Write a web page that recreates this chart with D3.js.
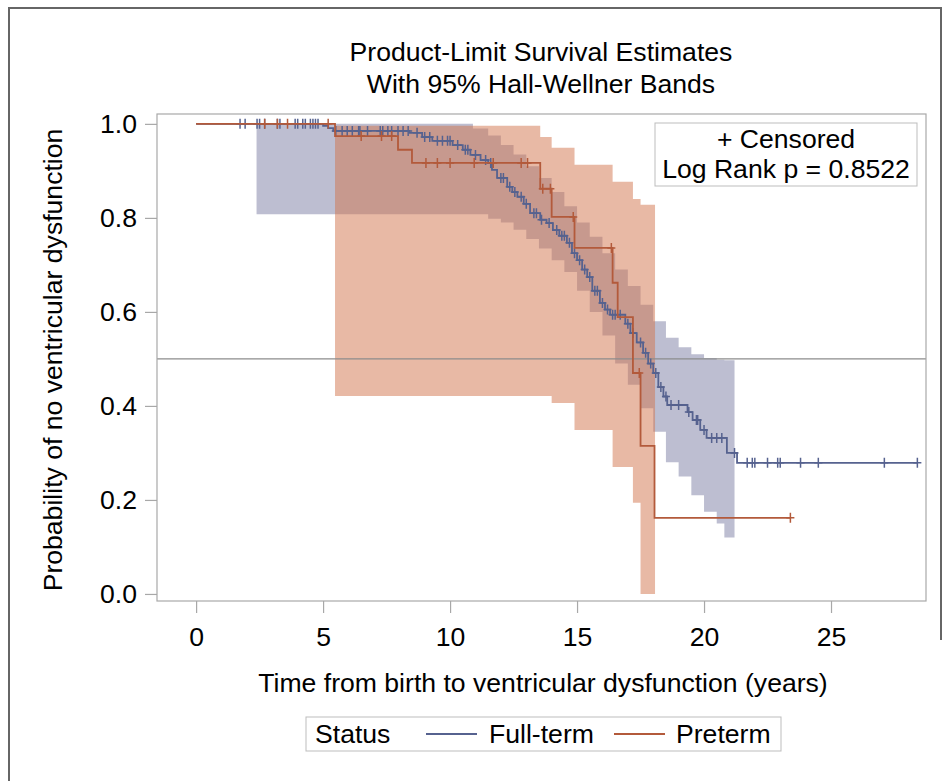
<!DOCTYPE html>
<html>
<head>
<meta charset="utf-8">
<script src="https://cdn.jsdelivr.net/npm/d3@7"></script>
<style>
  body { margin: 0; background: #fff; }
  text { font-family: "Liberation Sans", Arial, sans-serif; fill: #000; }
</style>
</head>
<body>
<div class="chart"></div>
<script>
// Kaplan-Meier steps
var ftTime = [0, 5.0, 5.2, 5.4, 8.4, 8.9, 9.3, 10.1, 10.5, 10.8, 11.2, 11.5, 11.65, 11.85, 12.25, 12.45, 12.65, 12.9, 13.15, 13.55, 13.8, 14.05, 14.3, 14.6, 14.8, 15.0, 15.2, 15.4, 15.6, 15.9, 16.1, 16.3, 16.9, 17.1, 17.35, 17.6, 17.8, 18.0, 18.2, 18.4, 18.55, 19.35, 19.55, 19.85, 20.1, 20.9, 21.3, 28.4];
var ftSurv = [1.0, 0.996, 0.991, 0.985, 0.981, 0.972, 0.964, 0.955, 0.945, 0.934, 0.923, 0.917, 0.902, 0.885, 0.866, 0.855, 0.845, 0.83, 0.81, 0.796, 0.789, 0.774, 0.762, 0.747, 0.725, 0.71, 0.69, 0.674, 0.645, 0.619, 0.605, 0.594, 0.575, 0.555, 0.535, 0.513, 0.49, 0.47, 0.44, 0.42, 0.402, 0.387, 0.37, 0.349, 0.332, 0.30, 0.279, 0.279];
var ftCensored = [1.73, 1.93, 2.4, 2.5, 2.7, 3.2, 3.3, 3.9, 4.0, 4.2, 4.3, 4.5, 4.6, 4.7, 4.8, 5.5, 5.75, 5.95, 6.15, 6.4, 6.45, 6.75, 7.25, 7.35, 7.55, 7.7, 7.95, 8.15, 8.35, 8.7, 9.0, 9.2, 9.5, 9.7, 9.9, 10.0, 10.3, 10.6, 10.7, 11.0, 11.4, 11.6, 12.0, 12.1, 12.35, 12.55, 12.8, 13.0, 13.3, 13.4, 13.6, 13.9, 14.2, 14.4, 14.5, 14.7, 14.9, 15.1, 15.3, 15.5, 15.7, 15.8, 16.0, 16.2, 16.4, 16.5, 16.7, 17.0, 17.2, 17.5, 17.7, 17.9, 18.1, 18.3, 18.5, 18.7, 19.0, 19.4, 19.7, 19.75, 20.0, 20.3, 20.5, 20.7, 21.2, 21.7, 21.9, 22.0, 22.5, 22.9, 23.0, 23.8, 24.5, 27.1, 28.4];

var ptTime = [0, 5.47, 7.95, 8.5, 13.55, 14.0, 14.9, 16.4, 16.6, 17.2, 17.5, 18.05, 23.4];
var ptSurv = [1.0, 0.974, 0.945, 0.917, 0.862, 0.802, 0.736, 0.662, 0.589, 0.47, 0.315, 0.162, 0.162];
var ptCensored = [2.7, 3.2, 3.6, 5.2, 6.5, 7.3, 7.7, 9.05, 9.5, 10.0, 10.95, 11.7, 12.8, 13.05, 13.65, 13.95, 14.85, 16.35, 17.45, 23.4];

// Hall-Wellner bands
var ftBandTime = [2.38, 10.0, 10.9, 11.5, 12.0, 12.5, 13.0, 13.5, 14.0, 14.5, 15.0, 15.5, 16.0, 16.5, 17.0, 17.5, 18.0, 18.5, 19.0, 19.5, 20.0, 20.5, 20.8, 21.2];
var ftBandLow = [0.808, 0.808, 0.808, 0.798, 0.79, 0.775, 0.755, 0.735, 0.71, 0.685, 0.645, 0.6, 0.55, 0.49, 0.445, 0.395, 0.345, 0.28, 0.25, 0.21, 0.175, 0.15, 0.12, 0.12];
var ftBandHigh = [1.0, 1.0, 0.99, 0.975, 0.955, 0.935, 0.91, 0.885, 0.855, 0.825, 0.79, 0.76, 0.725, 0.69, 0.655, 0.615, 0.58, 0.545, 0.525, 0.51, 0.502, 0.498, 0.497, 0.497];

var ptBandTime = [5.47, 13.55, 14.0, 14.9, 16.4, 17.2, 17.5, 18.07];
var ptBandLow = [0.421, 0.421, 0.406, 0.349, 0.27, 0.194, 0.0, 0.0];
var ptBandHigh = [0.996, 0.972, 0.949, 0.913, 0.877, 0.84, 0.828, 0.828];

var xTicks = [0, 5, 10, 15, 20, 25];
var yTicks = [0, 0.2, 0.4, 0.6, 0.8, 1.0];

var ftColor = "#56628f", ptColor = "#b35a3b";
var ftFill = "#7b7ea3", ptFill = "#d2734b";
var fontSize = "26.6px";

var width = 950, height = 781;
var plot = { left: 157, right: 926, top: 114, bottom: 601 };

var svg = d3.select(".chart").append("svg")
    .attr("width", width)
    .attr("height", height);

// outer border
svg.append("path")
    .attr("d", "M9,781V8H941V640")
    .attr("fill", "none")
    .attr("stroke", "#666")
    .attr("stroke-width", 2);

var x = d3.scaleLinear().domain([-1.54, 28.74]).range([plot.left, plot.right]);
var y = d3.scaleLinear().domain([-0.015, 1.021]).range([plot.bottom, plot.top]);

// title
svg.append("text").attr("x", 541).attr("y", 61).attr("text-anchor", "middle")
    .style("font-size", fontSize).text("Product-Limit Survival Estimates");
svg.append("text").attr("x", 541).attr("y", 93).attr("text-anchor", "middle")
    .style("font-size", fontSize).text("With 95% Hall-Wellner Bands");

function zip(t, a, b) {
    return t.map(function (d, i) { return { t: d, lo: a[i], hi: b ? b[i] : null }; });
}

var area = d3.area()
    .curve(d3.curveStepAfter)
    .x(function (d) { return x(d.t); })
    .y0(function (d) { return y(d.lo); })
    .y1(function (d) { return y(d.hi); });

svg.append("path").datum(zip(ftBandTime, ftBandLow, ftBandHigh))
    .attr("d", area).attr("fill", ftFill).attr("fill-opacity", 0.5);
svg.append("path").datum(zip(ptBandTime, ptBandLow, ptBandHigh))
    .attr("d", area).attr("fill", ptFill).attr("fill-opacity", 0.5);

// reference line at 0.5
svg.append("line")
    .attr("x1", plot.left).attr("x2", plot.right)
    .attr("y1", y(0.5)).attr("y2", y(0.5))
    .attr("stroke", "#8c8c8c").attr("stroke-width", 1.2);

var line = d3.line()
    .curve(d3.curveStepAfter)
    .x(function (d) { return x(d.t); })
    .y(function (d) { return y(d.lo); });

function survAt(times, surv, t) {
    var i = d3.bisectRight(times, t) - 1;
    return surv[Math.max(0, i)];
}

function drawCurve(times, surv, cens, color) {
    svg.append("path").datum(zip(times, surv))
        .attr("d", line).attr("fill", "none")
        .attr("stroke", color).attr("stroke-width", 1.8);
    svg.append("g").selectAll("path")
        .data(cens)
        .enter().append("path")
        .attr("d", function (t) {
            var cx = x(t), cy = y(survAt(times, surv, t));
            return "M" + (cx - 4) + "," + cy + "H" + (cx + 4) + "M" + cx + "," + (cy - 5) + "V" + (cy + 5);
        })
        .attr("fill", "none").attr("stroke", color).attr("stroke-width", 1.5);
}

drawCurve(ftTime, ftSurv, ftCensored, ftColor);
drawCurve(ptTime, ptSurv, ptCensored, ptColor);

// frame
svg.append("rect")
    .attr("x", plot.left).attr("y", plot.top)
    .attr("width", plot.right - plot.left).attr("height", plot.bottom - plot.top)
    .attr("fill", "none").attr("stroke", "#a8a8a8").attr("stroke-width", 1.2);

// axes
var xAxis = svg.append("g")
    .attr("transform", "translate(0," + plot.bottom + ")")
    .call(d3.axisBottom(x).tickValues(xTicks).tickSize(12).tickPadding(14).tickFormat(d3.format("d")));
var yAxis = svg.append("g")
    .attr("transform", "translate(" + plot.left + ",0)")
    .call(d3.axisLeft(y).tickValues(yTicks).tickSize(12).tickPadding(8).tickFormat(d3.format(".1f")));
[xAxis, yAxis].forEach(function (g) {
    g.select(".domain").remove();
    g.selectAll(".tick line").attr("stroke", "#a8a8a8").attr("stroke-width", 1.2);
    g.selectAll(".tick text")
        .style("font-family", "'Liberation Sans', Arial, sans-serif")
        .style("font-size", fontSize).attr("fill", "#000");
});

// axis titles
svg.append("text")
    .attr("transform", "translate(62,360) rotate(-90)")
    .attr("text-anchor", "middle")
    .style("font-size", fontSize)
    .text("Probability of no ventricular dysfunction");
svg.append("text")
    .attr("x", 543).attr("y", 692).attr("text-anchor", "middle")
    .style("font-size", fontSize)
    .text("Time from birth to ventricular dysfunction (years)");

// inset box
svg.append("rect").attr("x", 655).attr("y", 123).attr("width", 262).attr("height", 63)
    .attr("fill", "#fff").attr("stroke", "#bdbdbd").attr("stroke-width", 1);
svg.append("text").attr("x", 786).attr("y", 148).attr("text-anchor", "middle")
    .style("font-size", fontSize).text("+ Censored");
svg.append("text").attr("x", 786).attr("y", 178).attr("text-anchor", "middle")
    .style("font-size", fontSize).text("Log Rank p = 0.8522");

// legend
var legend = svg.append("g");
legend.append("rect").attr("x", 306).attr("y", 717).attr("width", 475).attr("height", 34)
    .attr("fill", "#fff").attr("stroke", "#bdbdbd").attr("stroke-width", 1);
legend.append("text").attr("x", 315).attr("y", 743).style("font-size", fontSize).text("Status");
legend.append("line").attr("x1", 426).attr("x2", 477).attr("y1", 734).attr("y2", 734)
    .attr("stroke", ftColor).attr("stroke-width", 1.8);
legend.append("text").attr("x", 489).attr("y", 743).style("font-size", fontSize).text("Full-term");
legend.append("line").attr("x1", 614).attr("x2", 665).attr("y1", 734).attr("y2", 734)
    .attr("stroke", ptColor).attr("stroke-width", 1.8);
legend.append("text").attr("x", 676).attr("y", 743).style("font-size", fontSize).text("Preterm");
</script>
</body>
</html>
